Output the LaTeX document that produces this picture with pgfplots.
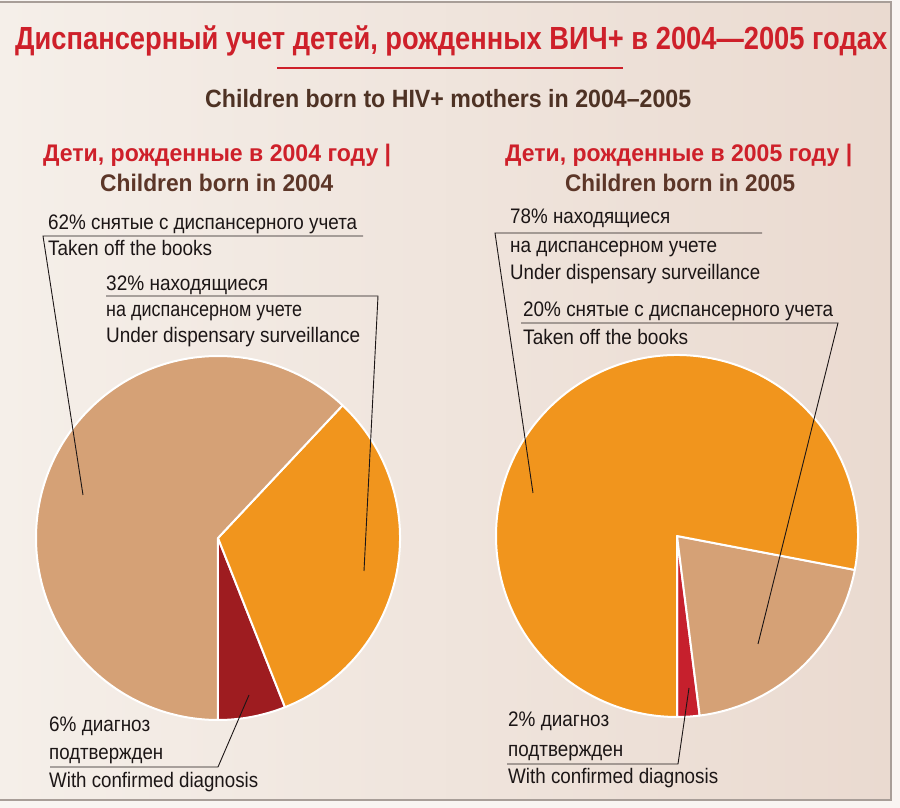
\documentclass[border=0pt]{standalone}
\usepackage{pgfplots}
\usepackage{pgfplotstable}
\usepackage{graphicx}
\usepackage{fontspec}
\setmainfont{Liberation Sans}
\pgfplotsset{compat=1.18}

\definecolor{bgL}{RGB}{245,239,233}
\definecolor{bgR}{RGB}{234,218,208}
\definecolor{frameC}{RGB}{168,158,152}
\definecolor{titleRed}{RGB}{206,32,42}
\definecolor{subBrown}{RGB}{78,50,36}
\definecolor{headBrown}{RGB}{92,54,40}
\definecolor{ink}{RGB}{28,22,22}
\definecolor{pieTan}{RGB}{213,161,118}
\definecolor{pieOrange}{RGB}{241,149,29}
\definecolor{pieDark}{RGB}{158,28,32}
\definecolor{pieRed}{RGB}{198,32,45}

% shares in percent, drawn counter-clockwise from the bottom
\pgfplotstableread{
share colour
6  pieDark
32 pieOrange
62 pieTan
}\pieA
\pgfplotstableread{
share colour
2  pieRed
20 pieTan
78 pieOrange
}\pieB

% #1 table, #2 radius (axis units = pt)
\newcommand\drawpie[2]{%
  \def\cum{-90}%
  \pgfplotsforeachungrouped \k in {0,1,2}{%
    \pgfplotstablegetelem{\k}{share}\of{#1}\let\val\pgfplotsretval
    \pgfplotstablegetelem{\k}{colour}\of{#1}\let\col\pgfplotsretval
    \pgfmathsetmacro\upto{\cum+3.6*\val}%
    \edef\slice{\noexpand\filldraw[fill=\col, draw=white, line width=2pt, line join=round]
      (axis cs:0,0) -- (axis cs:{#2*cos(\cum)},{#2*sin(\cum)})
      arc[start angle=\cum, end angle=\upto, radius=#2pt] -- cycle;}%
    \slice
    \let\cum\upto
  }%
}

\newcommand\fitw[2]{\resizebox{#1pt}{\height}{#2}}
\newcommand\lab[4]{\node[anchor=base west, inner sep=0, text=ink] at (#1,808-#2)
  {\fontsize{21}{24}\selectfont\fitw{#3}{#4}};}

\pgfplotsset{piebox/.style={x=1pt, y=1pt, xmin=-200, xmax=200, ymin=-200, ymax=200,
  hide axis, clip=false, disabledatascaling, anchor=origin}}

\begin{document}
\begin{tikzpicture}[x=1pt, y=1pt]
\path[use as bounding box, fill=bgL!60!white] (0,0) rectangle (900,808);
\shade[left color=bgL, right color=bgR] (0,8) rectangle (891,806);
\draw[frameC, line width=1.5pt] (0,806) -- (891,806) -- (891,8) -- (0,8);

\begin{axis}[piebox, at={(218,808-538)}]
\drawpie{\pieA}{182}
\end{axis}

\begin{axis}[piebox, at={(677,808-536)}]
\drawpie{\pieB}{181}
\end{axis}

% titles
\node[anchor=base west, inner sep=0, text=titleRed] at (15,808-50)
  {\fontsize{32}{36}\selectfont\bfseries\fitw{872}{Диспансерный учет детей, рожденных ВИЧ+ в 2004—2005 годах}};
\draw[titleRed, line width=2.5pt] (277,808-68) -- (623,808-68);
\node[anchor=base west, inner sep=0, text=subBrown] at (205,808-108)
  {\fontsize{25}{28}\selectfont\bfseries\fitw{486}{Children born to HIV+ mothers in 2004–2005}};

\node[anchor=base west, inner sep=0, text=titleRed] at (43,808-162)
  {\fontsize{24}{27}\selectfont\bfseries\fitw{348}{Дети, рожденные в 2004 году |}};
\node[anchor=base west, inner sep=0, text=headBrown] at (100,808-192)
  {\fontsize{24}{27}\selectfont\bfseries\fitw{233}{Children born in 2004}};
\node[anchor=base west, inner sep=0, text=titleRed] at (505,808-162)
  {\fontsize{24}{27}\selectfont\bfseries\fitw{347}{Дети, рожденные в 2005 году |}};
\node[anchor=base west, inner sep=0, text=headBrown] at (565,808-192)
  {\fontsize{24}{27}\selectfont\bfseries\fitw{230}{Children born in 2005}};

% leader lines
\begin{scope}[ink, line width=0.9pt]
\draw (363,808-236) -- (43,808-236) -- (83,808-495);
\draw (106,808-296) -- (378,808-296) -- (364,808-571);
\draw (50,808-767) -- (218,808-767) -- (249,808-695);
\draw (762,808-233) -- (495,808-233) -- (533,808-493);
\draw (521,808-323) -- (838,808-323) -- (758,808-644);
\draw (507,808-764) -- (678,808-764) -- (689,808-688);
\end{scope}

% left labels
\lab{48}{230}{309}{62\% снятые с диспансерного учета}
\lab{48}{256}{164}{Taken off the books}
\lab{106}{291}{162}{32\% находящиеся}
\lab{106}{317}{196}{на диспансерном учете}
\lab{106}{343}{254}{Under dispensary surveillance}
\lab{49}{732}{101}{6\% диагноз}
\lab{49}{760}{114}{подтвержден}
\lab{49}{788}{209}{With confirmed diagnosis}

% right labels
\lab{510}{224}{160}{78\% находящиеся}
\lab{510}{253}{207}{на диспансерном учете}
\lab{510}{280}{250}{Under dispensary surveillance}
\lab{523}{317}{310}{20\% снятые с диспансерного учета}
\lab{523}{345}{165}{Taken off the books}
\lab{508}{727}{101}{2\% диагноз}
\lab{508}{757}{115}{подтвержден}
\lab{508}{784}{210}{With confirmed diagnosis}
\end{tikzpicture}
\end{document}
